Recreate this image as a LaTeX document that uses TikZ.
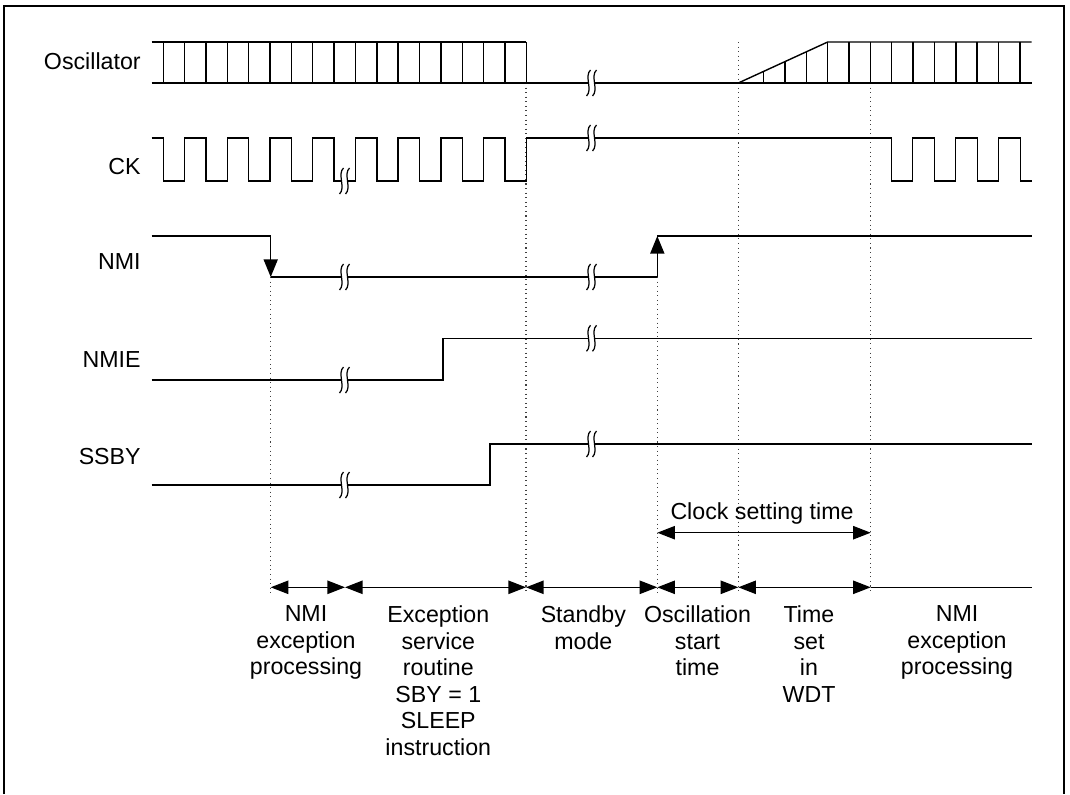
\documentclass[tikz,border=0pt]{standalone}
\usepackage{fontspec}
\setmainfont{Liberation Sans}
\usetikzlibrary{arrows.meta}

\begin{document}
\begin{tikzpicture}[
    x=0.02cm, y=-0.02cm,
    every node/.style={font=\fontsize{13.2}{15.1}\selectfont},
    sig/.style={line width=0.8pt},
    lbl/.style={anchor=base east, inner sep=0pt},
    seg/.style={anchor=north, align=center, inner sep=0pt},
    guide/.style={dotted, line width=0.6pt, black!75},
    tip/.style={-{Triangle[length=10pt, width=8pt]}},
    ar/.style={{Triangle[length=10pt, width=7.6pt]}-{Triangle[length=10pt, width=7.6pt]}, line width=0.7pt},
    brk/.pic={
        \fill[white] (-3,-4) rectangle (3,4);
        \draw[line width=0.7pt] (-5.5,13) .. controls (1,7) and (-8,-7) .. (-1.5,-13);
        \draw[line width=0.7pt] (0.5,13) .. controls (7,7) and (-2,-7) .. (4.5,-13);
    }
]
\useasboundingbox (0,0) rectangle (1070,794);
% frame (open at the bottom)
\draw[line width=1pt] (4,794) -- (4,6) -- (1064,6) -- (1064,794);
% time marks
\coordinate (tNmi) at (270.7,587.3);
\coordinate (tSvc) at (345,587.3);
\coordinate (tSby) at (526,587.3);
\coordinate (tOsc) at (657.3,587.3);
\coordinate (tWdt) at (738.3,587.3);
\coordinate (tRun) at (870.7,587.3);
\coordinate (tEnd) at (1031.7,587.3);
% dotted guides
\draw[guide] (270.7,277) -- (270.7,594);
\draw[guide] (526,83) -- (526,594);
\draw[guide] (657.3,277) -- (657.3,594);
\draw[guide] (738.3,42) -- (738.3,594);
\draw[guide] (870.7,83) -- (870.7,594);
% signal names
\node[lbl] (lOsc) at (141,69.9) {Oscillator};
\node[lbl] (lCk) at (141,174.9) {CK};
\node[lbl] (lNmi) at (141,269.9) {NMI};
\node[lbl] (lNmie) at (141,367.5) {NMIE};
\node[lbl] (lSsby) at (141,464.9) {SSBY};
% Oscillator
\draw[sig] (151.7,42) -- (526,42);
\draw[sig] (151.7,83) -- (1031.7,83);
\foreach \k in {0,...,17} \draw[sig] ({163.3+21.35*\k},42) -- ++(0,41);
\draw[sig] (738.3,83) -- (827.7,42) -- (1031.7,42);
\foreach \xx in {763.7,785,806.3} \draw[sig] (\xx,83) -- (\xx,{83-41*(\xx-738.3)/89.4});
\foreach \k in {0,...,9} \draw[sig] ({827.7+21.35*\k},42) -- ++(0,41);
% CK
\draw[sig] (151.7,138) foreach \k in {0,...,8}{
    -- ({163.3+42.7*\k},138) -- ({163.3+42.7*\k},181) -- ({184.6+42.7*\k},181) -- ({184.6+42.7*\k},138)}
    foreach \k in {0,1,2}{
    -- ({891.7+43*\k},138) -- ({891.7+43*\k},181) -- ({912.7+43*\k},181) -- ({912.7+43*\k},138)}
    -- (1020.7,138) -- (1020.7,181) -- (1031.7,181);
% NMI
\draw[sig] (151.7,236) -- (270.7,236);
\draw[sig, tip] (270.7,236) -- (270.7,277);
\draw[sig] (270.7,277) -- (657.3,277);
\draw[sig, tip] (657.3,277) -- (657.3,236);
\draw[sig] (657.3,236) -- (1031.7,236);
% NMIE and SSBY
\draw[sig] (151.7,380) -- (443,380) -- (443,338.3) -- (1031.7,338.3);
\draw[sig] (151.7,485) -- (490,485) -- (490,444) -- (1031.7,444);
% breaks
\foreach \yy in {181,277,380,485} \pic at (345,\yy) {brk};
\foreach \yy in {83,138,277,338.3,444} \pic at (592,\yy) {brk};
% clock setting time
\draw[ar] (657.3,532.7) -- (870.7,532.7);
\node[anchor=base, inner sep=0pt] (clk) at (762,519.9) {Clock setting time};
% phases
\draw[ar] (tNmi) -- (tSvc);
\draw[ar] (tSvc) -- (tSby);
\draw[ar] (tSby) -- (tOsc);
\draw[ar] (tOsc) -- (tWdt);
\draw[ar] (tWdt) -- (tRun);
\draw[ar, -] (tRun) -- (tEnd);
\node[seg] (pNmi) at (306,605.5) {NMI\\exception\\processing};
\node[seg] (pSvc) at (438.3,605.5) {Exception\\service\\routine\\SBY = 1\\SLEEP\\instruction};
\node[seg] (pSby) at (583.3,605.5) {Standby\\mode};
\node[seg] (pOsc) at (697.5,605.5) {Oscillation\\start\\time};
\node[seg] (pWdt) at (809,605.5) {Time\\set\\in\\WDT};
\node[seg] (pRun) at (957,605.5) {NMI\\exception\\processing};
\end{tikzpicture}
\end{document}
